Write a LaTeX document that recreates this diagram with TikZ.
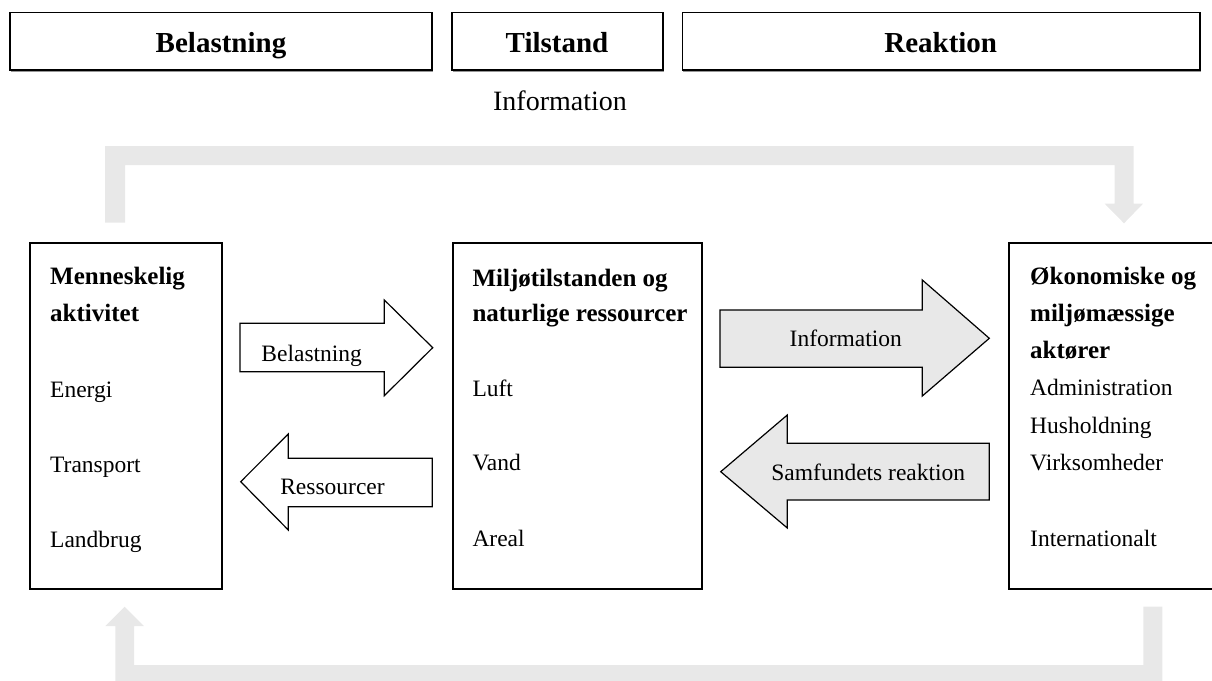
\documentclass[tikz,border=0pt]{standalone}
\usepackage{fontspec}
\setmainfont{Liberation Serif}
\definecolor{loopgray}{RGB}{232,232,232}
\definecolor{arrowgray}{RGB}{232,232,232}
\definecolor{shadowgray}{RGB}{150,150,150}
\begin{document}
\begin{tikzpicture}[x=1pt,y=-1pt,
  hdrbox/.style={draw, line width=1.5pt, minimum height=57.6, inner sep=0, anchor=north west},
  hdrtxt/.style={font=\fontsize{29}{34}\selectfont\bfseries, inner sep=0, anchor=base},
  mainbox/.style={draw, line width=2pt, minimum height=346, inner sep=0, anchor=north west},
  headtxt/.style={font=\fontsize{25}{30}\selectfont\bfseries, inner sep=0, anchor=base west},
  bodytxt/.style={font=\fontsize{23.5}{28}\selectfont, inner sep=0, anchor=base west},
  arrtxt/.style={font=\fontsize{23.5}{28}\selectfont, inner sep=0, anchor=base},
  blockw/.style={draw, line width=1.2pt, fill=white, line join=miter},
  blockg/.style={draw, line width=1.2pt, fill=arrowgray, line join=miter},
  loopband/.style={fill=loopgray, draw=none}
]
\useasboundingbox (0,0) rectangle (1212,680);

% header boxes
\draw[shadowgray, line width=1.5pt] (10.8,71.5) -- (432.7,71.5);
\draw[shadowgray, line width=1.5pt] (452.8,71.5) -- (663.8,71.5);
\draw[shadowgray, line width=1.5pt] (683.1,71.5) -- (1200.9,71.5);
\node[hdrbox, minimum width=421.9] (hb1) at (9.3,11.7) {};
\node[hdrbox, minimum width=211] (hb2) at (451.3,11.7) {};
\node[hdrbox, minimum width=517.8] (hb3) at (681.6,11.7) {};
\node[hdrtxt] (hb1t) at (221,52.7) {Belastning};
\node[hdrtxt] (hb2t) at (557,52.7) {Tilstand};
\node[hdrtxt] (hb3t) at (940.7,52.7) {Reaktion};

\node[font=\fontsize{28}{33}\selectfont, inner sep=0, anchor=base] (info) at (560,110) {Information};

% feedback loops
\fill[loopband] (105,222.7) -- (105,146) -- (1133.5,146) -- (1133.5,203.7) -- (1143,203.7)
  -- (1124,223.3) -- (1104.7,203.7) -- (1114.6,203.7) -- (1114.6,165) -- (125,165) -- (125,222.7) -- cycle;
\fill[loopband] (1162.3,606.7) -- (1162.3,682) -- (115.3,682) -- (115.3,626) -- (105.4,626)
  -- (124.7,606.7) -- (144,626) -- (134.2,626) -- (134.2,665) -- (1143.3,665) -- (1143.3,606.7) -- cycle;

% main boxes
\node[mainbox, minimum width=192] (act) at (29,241.7) {};
\node[mainbox, minimum width=249.3] (env) at (451.7,241.7) {};
\node[mainbox, minimum width=206] (eco) at (1008,241.7) {};

% left box text
\node[headtxt] (a1) at (50,284.5) {Menneskelig};
\node[headtxt] (a2) at (50,321.5) {aktivitet};
\node[bodytxt] (a3) at (50,397) {Energi};
\node[bodytxt] (a4) at (50,472) {Transport};
\node[bodytxt] (a5) at (50,547) {Landbrug};

% middle box text
\node[headtxt] (m1) at (472.3,286) {Miljøtilstanden og};
\node[headtxt] (m2) at (472.3,321.5) {naturlige ressourcer};
\node[bodytxt] (m3) at (472.3,396) {Luft};
\node[bodytxt] (m4) at (472.3,470.5) {Vand};
\node[bodytxt] (m5) at (472.3,546) {Areal};

% right box text
\node[headtxt] (r1) at (1030,284) {Økonomiske og};
\node[headtxt] (r2) at (1030,321) {miljømæssige};
\node[headtxt] (r3) at (1030,358.5) {aktører};
\node[bodytxt] (r4) at (1030,395.5) {Administration};
\node[bodytxt] (r5) at (1030,433) {Husholdning};
\node[bodytxt] (r6) at (1030,470) {Virksomheder};
\node[bodytxt] (r7) at (1030,546) {Internationalt};

% block arrows
\draw[blockw] (240,323.3) -- (384.3,323.3) -- (384.3,300) -- (432.7,347.7) -- (384.3,395.7) -- (384.3,371.7) -- (240,371.7) -- cycle;
\draw[blockw] (432.3,458.3) -- (288.3,458.3) -- (288.3,434) -- (240.7,481.7) -- (288.3,530) -- (288.3,506.7) -- (432.3,506.7) -- cycle;
\draw[blockg] (720,310) -- (922.3,310) -- (922.3,280) -- (989.3,338.3) -- (922.3,396) -- (922.3,367.3) -- (720,367.3) -- cycle;
\draw[blockg] (989.3,443.3) -- (787.3,443.3) -- (787.3,415) -- (720.7,471.7) -- (787.3,528) -- (787.3,500) -- (989.3,500) -- cycle;

\node[arrtxt] (l1) at (311.7,361) {Belastning};
\node[arrtxt] (l2) at (332.5,494) {Ressourcer};
\node[arrtxt] (l3) at (845.8,346) {Information};
\node[arrtxt] (l4) at (868.3,480) {Samfundets reaktion};
\end{tikzpicture}
\end{document}
